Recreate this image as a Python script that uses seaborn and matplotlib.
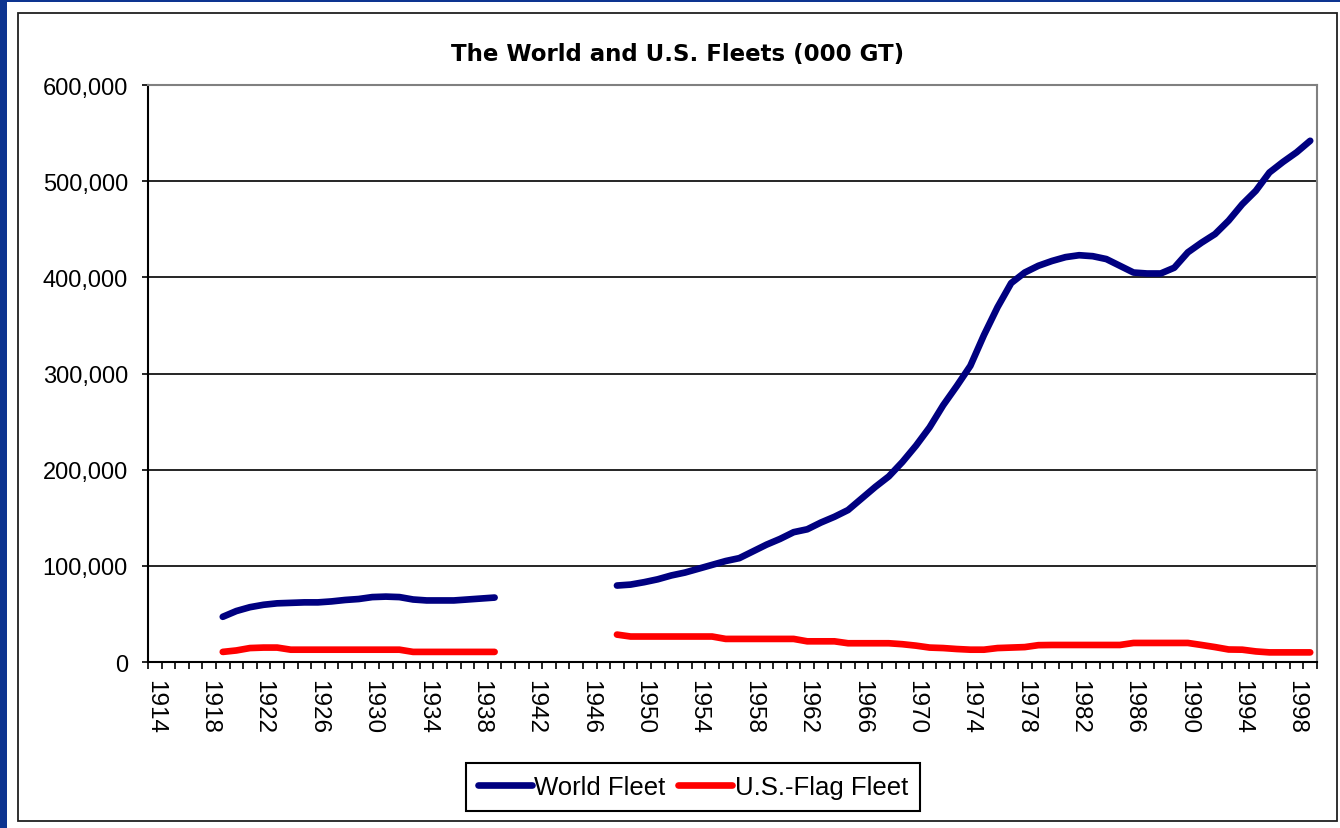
import numpy as np
import pandas as pd
import matplotlib.pyplot as plt
import seaborn as sns
from matplotlib.lines import Line2D
from matplotlib.patches import Rectangle
from matplotlib.ticker import FuncFormatter, MultipleLocator

# Data (000 GT)
years_prewar = list(range(1919, 1940))
years_postwar = list(range(1948, 2000))

world_prewar = [47000, 53000, 57000, 59500, 61000, 61500, 62000, 62000, 63000, 64500,
                65500, 67500, 68000, 67500, 65000, 64000, 64000, 64000, 65000, 66000,
                67000]
us_prewar = [10500, 12000, 14500, 15000, 15000, 12800, 12800, 12800, 12800, 12800,
             12800, 12800, 12800, 12800, 10500, 10500, 10500, 10500, 10500, 10500,
             10500]

world_postwar = [79500, 80500, 83000, 86000, 90000, 93000, 97000, 101000, 105000, 108000,
                 115000, 122000, 128000, 135000, 138000, 145000, 151000, 158000, 170000, 182000,
                 193000, 208000, 225000, 244000, 267000, 287000, 308000, 340000, 369000, 394000,
                 405000, 412000, 417000, 421000, 423000, 422000, 419000, 412000, 405000, 404000,
                 404000, 410000, 426000, 436000, 445000, 459000, 476000, 490000, 509000, 520000,
                 530000, 542000]
us_postwar = [28500, 26500, 26500, 26500, 26500, 26500, 26500, 26500, 24000, 24000,
              24000, 24000, 24000, 24000, 21500, 21500, 21500, 19500, 19500, 19500,
              19500, 18500, 17000, 15000, 14500, 13500, 12800, 12800, 14500, 15000,
              15500, 17500, 17700, 17700, 17700, 17700, 17700, 17700, 19800, 19800,
              19800, 19800, 19800, 17700, 15500, 13000, 12800, 11000, 10000, 10000,
              10000, 10000]

series_names = ['World Fleet', 'U.S.-Flag Fleet']
series_colors = ['#000080', '#ff0000']
year_ticks = list(range(1914, 1999, 4))

# build a long table, with a 'period' column so the war gap stays empty
frames = []
for name, pre, post in [(series_names[0], world_prewar, world_postwar),
                        (series_names[1], us_prewar, us_postwar)]:
    frames.append(pd.DataFrame({'year': years_prewar, 'value': pre, 'series': name, 'period': 'pre'}))
    frames.append(pd.DataFrame({'year': years_postwar, 'value': post, 'series': name, 'period': 'post'}))
df = pd.concat(frames, ignore_index=True)

sns.set_style('white')
plt.rcParams['font.family'] = ['Liberation Sans', 'DejaVu Sans']
plt.rcParams['text.color'] = 'black'
plt.rcParams['xtick.color'] = 'black'
plt.rcParams['ytick.color'] = 'black'

W, H = 1340, 829
fig = plt.figure(figsize=(W / 100, H / 100), dpi=100)
fig.patch.set_facecolor('#0d3490')

# white slide area and chart frame (kept behind the axes)
fig.patches.append(Rectangle((7 / W, 0), (W - 7) / W, (H - 3) / H, transform=fig.transFigure,
                             facecolor='white', edgecolor='none', zorder=-10))
fig.patches.append(Rectangle((18 / W, 1 - 822 / H), (1337 - 18) / W, (822 - 14) / H,
                             transform=fig.transFigure, facecolor='none',
                             edgecolor='#202020', linewidth=1.3, zorder=-5))

ax = fig.add_axes([148 / W, 1 - 663 / H, (1317 - 148) / W, (663 - 86) / H])
ax.set_facecolor('white')

sns.lineplot(data=df, x='year', y='value', hue='series', units='period', estimator=None,
             palette=dict(zip(series_names, series_colors)), linewidth=4.8,
             legend=False, ax=ax)

ax.set_xlim(1913.5, 1999.5)
ax.set_ylim(0, 600000)
ax.set_xlabel('')
ax.set_ylabel('')

ax.yaxis.set_major_locator(MultipleLocator(100000))
ax.yaxis.set_major_formatter(FuncFormatter(lambda v, p: f'{v:,.0f}'))
ax.yaxis.grid(True, color='black', linewidth=1.2)
ax.xaxis.grid(False)

ax.set_xticks(year_ticks)
ax.set_xticklabels([str(y) for y in year_ticks], rotation=270, ha='center', va='top')
ax.set_xticks(np.arange(1913.5, 2000, 1), minor=True)
ax.tick_params(axis='x', which='major', length=0, pad=12, labelsize=17.5)
ax.tick_params(axis='x', which='minor', length=5, width=1.2, direction='out', color='black', bottom=True)
ax.tick_params(axis='y', which='major', length=4.5, width=1.2, direction='out', pad=10,
               labelsize=17, color='black', left=True)

for side in ['left', 'bottom']:
    ax.spines[side].set_color('black')
    ax.spines[side].set_linewidth(1.5)
for side in ['top', 'right']:
    ax.spines[side].set_color('#808080')
    ax.spines[side].set_linewidth(1.5)

fig.text(678 / W, 1 - 55 / H, 'The World and U.S. Fleets (000 GT)', ha='center', va='center',
         fontsize=16.5, fontweight='bold', family='DejaVu Sans')

handles = [Line2D([0], [0], color=c, linewidth=4.8) for c in series_colors]
leg = fig.legend(handles, series_names, loc='center', bbox_to_anchor=(693 / W, 1 - 788 / H),
                 ncol=2, fontsize=18.5, frameon=True, fancybox=False, framealpha=1,
                 edgecolor='black', handlelength=2.1, handletextpad=0.1, columnspacing=0.5,
                 borderpad=0.45)
leg.get_frame().set_linewidth(1.5)

fig.savefig('out.png', dpi=100, facecolor=fig.get_facecolor())
